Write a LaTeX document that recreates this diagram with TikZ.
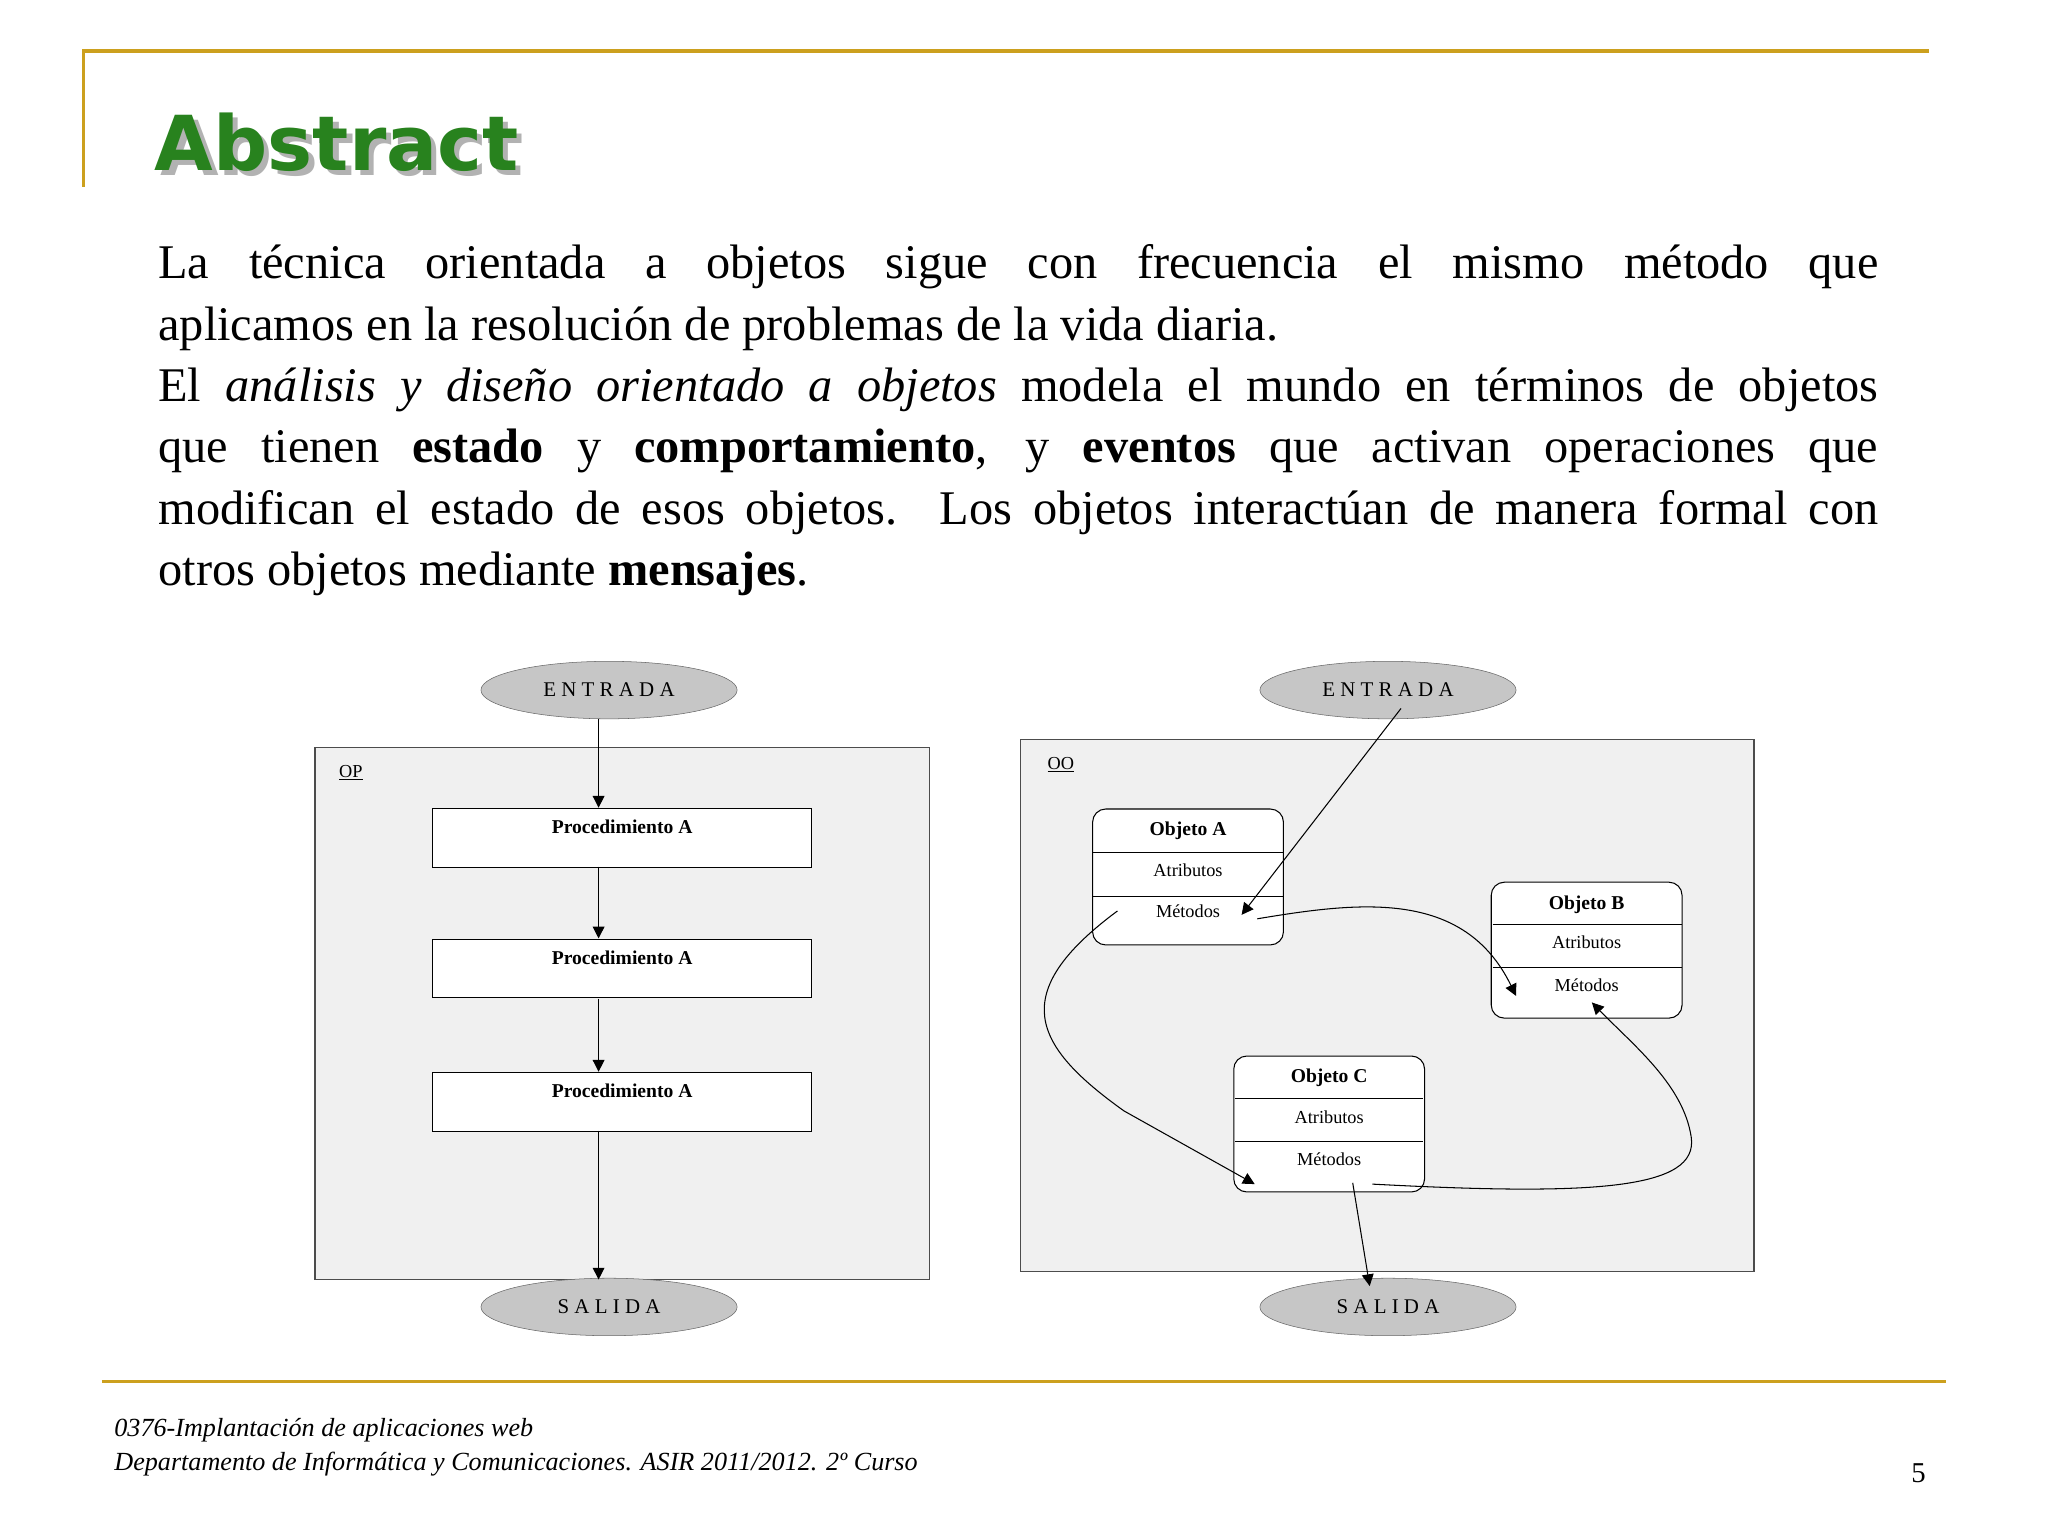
\documentclass[tikz,border=0pt]{standalone}
\usepackage{fontspec}
\setmainfont{Liberation Serif}
\newfontfamily\titlefont{DejaVu Sans}
\usetikzlibrary{shapes.geometric,arrows.meta}
\definecolor{gold}{RGB}{204,160,30}
\definecolor{tgreen}{RGB}{40,130,30}
\tikzset{
 panel/.style={draw=black!70,fill=gray!12,line width=1pt},
 term/.style={ellipse,draw=black!60,fill=gray!45,minimum width=196pt,minimum height=44pt,font=\fontsize{16}{16}\selectfont},
 proc/.style={draw=black,fill=white,line width=0.8pt,minimum width=290pt,minimum height=45pt},
 obj/.style={draw=black,fill=white,rounded corners=10pt,line width=0.8pt,minimum width=146pt,minimum height=104pt},
 lbl/.style={font=\fontsize{15}{15}\selectfont\bfseries},
 slbl/.style={font=\fontsize{14}{14}\selectfont},
 arr/.style={-{Triangle[length=9pt,width=9pt]},line width=0.8pt},
}
\begin{document}
\begin{tikzpicture}[x=1pt,y=-1pt]
\useasboundingbox (0,0) rectangle (1567,1175);
\fill[white] (0,0) rectangle (1567,1175);
% frame lines
\draw[gold,line width=2.5pt] (64,143) -- (64,39) -- (1476,39);
\draw[gold,line width=2.5pt] (78,1057) -- (1489,1057);
% title
\node[anchor=west,text=black!30,font=\titlefont\bfseries\fontsize{58}{58}\selectfont] at (119,113) {Abstract};
\node[anchor=west,text=tgreen,font=\titlefont\bfseries\fontsize{58}{58}\selectfont] (title) at (115,109) {Abstract};
% body
\node[anchor=north west,inner sep=0pt,text width=1316pt,align=justify,font=\fontsize{37}{47}\selectfont] (body) at (121,187) {\hyphenpenalty=10000\relax La técnica orientada a objetos sigue con frecuencia el mismo método que\linebreak aplicamos en la resolución de problemas de la vida diaria.\\
El \textit{análisis y diseño orientado a objetos} modela el mundo en términos de objetos\linebreak que tienen \textbf{estado} y \textbf{comportamiento}, y \textbf{eventos} que activan operaciones que\linebreak modifican el estado de esos objetos. Los objetos interactúan de manera formal con\linebreak otros objetos mediante \textbf{mensajes}.};
% footer
\node[anchor=west,font=\itshape\fontsize{20}{20}\selectfont] (f1) at (84,1094) {0376-Implantación de aplicaciones web};
\node[anchor=west,font=\itshape\fontsize{20}{20}\selectfont] (f2) at (84,1120) {Departamento de Informática y Comunicaciones. ASIR 2011/2012. 2º Curso};
\node[font=\fontsize{22}{22}\selectfont] (pg) at (1468,1127) {5};
% left diagram
\draw[panel] (241,572) rectangle (711,979);
\node[anchor=west,slbl] (op) at (256,591) {\underline{OP}};
\node[term] (e1) at (466,528) {E N T R A D A};
\node[term] (s1) at (466,1000) {S A L I D A};
\node[proc] (p1) at (476,641) {};
\node[proc] (p2) at (476,741) {};
\node[proc] (p3) at (476,843) {};
\foreach \p in {p1,p2,p3} \node[lbl,anchor=north] at ([yshift=-6pt]\p.north) {Procedimiento A};
\draw[arr] (458,550) -- (458,618);
\draw[arr] (458,663) -- (458,718);
\draw[arr] (458,764) -- (458,820);
\draw[arr] (458,865) -- (458,979);
% right diagram
\draw[panel] (781,566) rectangle (1342,973);
\node[anchor=west,slbl] (oo) at (798,585) {\underline{OO}};
\node[term] (e2) at (1062,528) {E N T R A D A};
\node[term] (s2) at (1062,1000) {S A L I D A};
\node[obj] (A) at (909,671) {};
\draw (836,652) -- (982,652) (836,686) -- (982,686);
\node[lbl] at (909,636) {Objeto A};
\node[slbl] at (909,666) {Atributos};
\node[slbl] at (909,697) {Métodos};
\node[obj] (B) at (1214,727) {};
\draw (1142,707) -- (1287,707) (1142,740) -- (1287,740);
\node[lbl] at (1214,692) {Objeto B};
\node[slbl] at (1214,721) {Atributos};
\node[slbl] at (1214,754) {Métodos};
\node[obj] (C) at (1017,860) {};
\draw (945,840) -- (1089,840) (945,873) -- (1089,873);
\node[lbl] at (1017,825) {Objeto C};
\node[slbl] at (1017,855) {Atributos};
\node[slbl] at (1017,887) {Métodos};
\coordinate (ein) at (1072,542);
\coordinate (am) at (950,700);
\draw[arr] (ein) -- (am);
\coordinate (a1) at (962,703);
\coordinate (b1) at (1160,762);
\draw[arr] (a1) .. controls (1040,690) and (1120,680) .. (b1);
\coordinate (c1) at (1050,906);
\coordinate (b2) at (1218,767);
\draw[arr] (c1) .. controls (1220,915) and (1300,910) .. (1294,870) .. controls (1288,830) and (1250,800) .. (b2);
\coordinate (a2) at (855,697);
\coordinate (c2) at (960,906);
\draw[arr] (a2) .. controls (770,760) and (790,800) .. (860,850) -- (c2);
\coordinate (c3) at (1035,905);
\draw[arr] (c3) -- (1048,984);
\end{tikzpicture}
\end{document}
